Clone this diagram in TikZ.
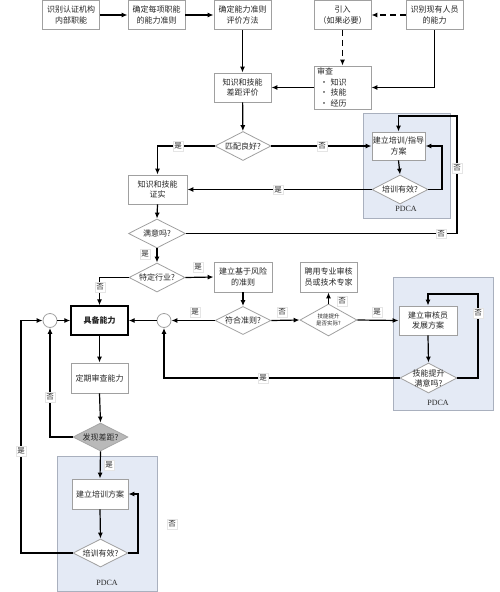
\documentclass[tikz,border=0pt]{standalone}
\usepackage{fontspec}
\setmainfont{Noto Sans CJK SC}
\newfontfamily\latinserif{Liberation Serif}
\usetikzlibrary{shapes.geometric,arrows.meta}
\definecolor{boxgray}{HTML}{A0A0A0}
\definecolor{pdcafill}{HTML}{E4EAF5}
\definecolor{pdcaborder}{HTML}{A9B0BE}
\begin{document}
\begin{tikzpicture}[x=1pt,y=-1pt,
  box/.style={draw=boxgray, line width=0.8pt, fill=white, minimum width=57pt, minimum height=29pt, inner sep=1pt, align=center, font=\fontsize{8}{10.5}\selectfont, text=black!85},
  dia/.style={diamond, draw=boxgray, fill=white, line width=0.8pt, minimum width=56pt, minimum height=29pt, inner sep=0pt},
  dtext/.style={font=\fontsize{8}{10}\selectfont, align=center, inner sep=0pt, text=black!85},
  lbl/.style={fill=white, draw=gray!20, line width=0.3pt, inner sep=1.5pt, font=\fontsize{7.5}{9}\selectfont, text=black!85},
  arr/.style={line width=1.2pt, -{Latex[length=6pt,width=5pt]}},
  ln/.style={line width=1.2pt},
  dashline/.style={line width=1.2pt, dash pattern=on 6pt off 4pt},
  pdca/.style={draw=pdcaborder, fill=pdcafill, line width=0.8pt},
  circ/.style={circle, draw=boxgray, fill=white, line width=0.8pt, minimum size=14pt, inner sep=0pt},
  ptxt/.style={font=\latinserif\fontsize{8}{10}\selectfont, text=black!85}
]
\useasboundingbox (0,0) rectangle (500,592);
% PDCA backgrounds
\path[pdca] (363,113) rectangle (450,218);
\path[pdca] (393,277) rectangle (493,410);
\path[pdca] (57,456) rectangle (157,591);
\node[ptxt] (p1) at (406,209) {PDCA};
\node[ptxt] (p2) at (438,403) {PDCA};
\node[ptxt] (p3) at (107,583) {PDCA};

% top row
\node[box] (n1) at (71,15) {识别认证机构\\内部职能};
\node[box] (n2) at (156.5,15) {确定每项职能\\的能力准则};
\node[box] (n3) at (242.5,15) {确定能力准则\\评价方法};
\node[box] (n4) at (342.5,15) {引入\\（如果必要）};
\node[box] (n5) at (434.5,15) {识别现有人员\\的能力};
\node[box, minimum height=43pt, text width=51pt, align=left] (n6) at (342.5,87.5) {审查\\\hspace{3pt}• 知识\\\hspace{3pt}• 技能\\\hspace{3pt}• 经历};
\node[box] (n7) at (242.5,87.5) {知识和技能\\差距评价};

\node[dia] (d1) at (243,146) {};
\node[dtext] (d1t) at (d1) {匹配良好?};
\node[box, minimum width=53pt, minimum height=28pt] (n8) at (398.5,146) {建立培训/指导\\方案};
\node[dia] (d2) at (400,189.5) {};
\node[dtext] (d2t) at (d2) {培训有效?};
\node[box, minimum width=59pt] (n9) at (157.5,189.5) {知识和技能\\证实};
\node[dia, minimum width=57pt] (d3) at (157,233.5) {};
\node[dtext] (d3t) at (d3) {满意吗?};
\node[dia] (d4) at (157,277.5) {};
\node[dtext] (d4t) at (d4) {特定行业?};
\node[box, minimum width=58pt, minimum height=30pt] (n10) at (243,277) {建立基于风险\\的准则};
\node[box, draw=black, line width=1.4pt] (n11) at (99.5,320.5) {\textbf{具备能力}};
\node[circ] (c1) at (50,320.5) {};
\node[circ] (c2) at (164,320.5) {};
\node[dia, minimum height=28pt] (d5) at (243,320.5) {};
\node[dtext] (d5t) at (d5) {符合准则?};
\node[dia, minimum width=57pt, minimum height=32pt] (d6) at (328.5,320) {};
\node[dtext, font=\fontsize{5.5}{7}\selectfont] (d6t) at (d6) {技能提升\\是否实际?};
\node[box, minimum height=30pt] (n12) at (328.5,277) {聘用专业审核\\员或技术专家};
\node[box, minimum width=58pt] (n13) at (428,320.5) {建立审核员\\发展方案};
\node[dia, minimum width=57pt, minimum height=30pt] (d7) at (428.5,378) {};
\node[dtext] (d7t) at (d7) {技能提升\\满意吗?};
\node[box, minimum height=30pt] (n14) at (99.5,378) {定期审查能力};
\node[dia, fill=gray!55, draw=gray!70, minimum width=55pt, minimum height=28pt] (d8) at (100.5,437) {};
\node[dtext] (d8t) at (d8) {发现差距?};
\node[box, minimum width=56pt, minimum height=30pt] (n15) at (100,494) {建立培训方案};
\node[dia, minimum width=55pt, minimum height=28pt] (d9) at (100.5,553) {};
\node[dtext] (d9t) at (d9) {培训有效?};

% connectors
\draw[arr] (n1) -- (n2);
\draw[arr] (n2) -- (n3);
\draw[arr] (n3) -- (n7);
\draw[arr] (n7) -- (d1);
\draw[dashline, -{Latex[length=6pt,width=5pt]}] (n5.west) -- (n4.east);
\draw[dashline, -{Latex[length=6pt,width=5pt]}] (n4.south) -- (n6.north);
\draw[arr] (n5.south) |- (n6.east);
\draw[arr] (n6.west) -- (n7.east);
\draw[arr] (d1.west) -| (n9.north);
\draw[arr] (d1.east) -- (n8.west);
\draw[arr] (n8.south) -- (d2.north);
\coordinate (k1) at (442,189.5);
\draw[arr] (d2.east) -- (k1) |- (n8.east);
\draw[arr] (d2.west) -- (n9.east);
\draw[arr] (n9.south) -- (d3.north);
\coordinate (k2) at (457,233.5);
\coordinate (k3) at (457,116);
\draw[arr] (d3.east) -- (k2) -- (k3) -| (n8.north);
\draw[arr] (d3.south) -- (d4.north);
\draw[arr] (d4.east) -- (n10.west);
\draw[arr] (d4.west) -| (n11.north);
\draw[arr] (n10.south) -- (d5.north);
\draw[arr] (d5.west) -- (c2.east);
\draw[arr] (c2.west) -- (n11.east);
\draw[arr] (c1.east) -- (n11.west);
\draw[arr] (d5.east) -- (d6.west);
\draw[arr] (d6.north) -- (n12.south);
\draw[arr] (d6.east) -- (n13.west);
\draw[arr] (n13.south) -- (d7.north);
\coordinate (k4) at (478,378);
\coordinate (k5) at (478,294);
\draw[arr] (d7.east) -- (k4) -- (k5) -| (n13.north);
\draw[arr] (d7.west) -| (c2.south);
\draw[arr] (n11.south) -- (n14.north);
\draw[arr] (n14.south) -- (d8.north);
\draw[arr] (d8.west) -| (c1.south);
\draw[arr] (d8.south) -- (n15.north);
\draw[arr] (n15.south) -- (d9.north);
\coordinate (k6) at (138,553);
\draw[arr] (d9.east) -- (k6) |- (n15.east);
\coordinate (k7) at (21,320.5);
\draw[arr] (d9.west) -| (k7) -- (c1.west);

% labels
\node[lbl] (l1) at (178,146) {是};
\node[lbl] (l2) at (322,146) {否};
\node[lbl] (l3) at (278,189.5) {是};
\node[lbl] (l4) at (457,168) {否};
\node[lbl] (l5) at (441,233.5) {否};
\node[lbl] (l6) at (145,254) {是};
\node[lbl] (l7) at (198,267) {是};
\node[lbl] (l8) at (100,287) {否};
\node[lbl] (l9) at (195,312) {是};
\node[lbl] (l10) at (282,312) {否};
\node[lbl] (l11) at (342,301) {否};
\node[lbl] (l12) at (377,312) {是};
\node[lbl] (l13) at (478,313) {否};
\node[lbl] (l14) at (263,378) {是};
\node[lbl] (l15) at (50,397) {否};
\node[lbl] (l16) at (109,465) {是};
\node[lbl] (l17) at (21,451) {是};
\node[lbl] (l18) at (172,524) {否};
\end{tikzpicture}
\end{document}
